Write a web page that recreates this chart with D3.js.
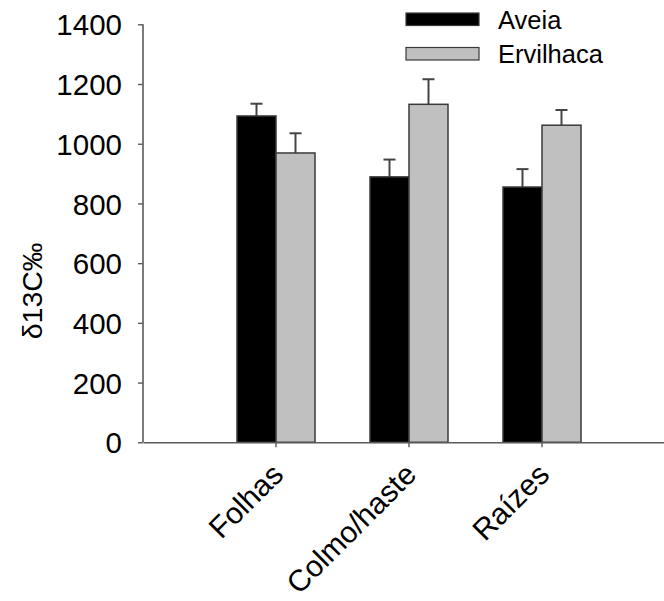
<!DOCTYPE html>
<html>
<head>
<meta charset="utf-8">
<script src="https://cdn.jsdelivr.net/npm/d3@7/dist/d3.min.js"></script>
<style>
  html, body { margin: 0; padding: 0; background: #fff; }
  svg { display: block; font-family: "Liberation Sans", Arial, sans-serif; }
</style>
</head>
<body>
<svg id="chart" width="664" height="601"></svg>
<script>
// Plant parts on the x axis
const categories = ["Folhas", "Colmo/haste", "Raízes"];
// Series names
const seriesNames = ["Aveia", "Ervilhaca"];
// Mean values per series (δ13C‰)
const aveiaValues = [1093, 889, 855];
const ervilhacaValues = [969, 1132, 1062];
// Upper error (standard error) per series
const aveiaErrors = [41, 58, 60];
const ervilhacaErrors = [66, 84, 51];
// Y-axis tick values
const yTicks = [0, 200, 400, 600, 800, 1000, 1200, 1400];

const seriesValues = [aveiaValues, ervilhacaValues];
const seriesErrors = [aveiaErrors, ervilhacaErrors];
const fills = ["#000000", "#c0c0c0"];
const axisColor = "#5a5a5a";

const svg = d3.select("#chart");

const x = d3.scaleBand()
  .domain(categories)
  .range([143, 675])
  .paddingInner(0)
  .paddingOuter(0.5);

const y = d3.scaleLinear()
  .domain([0, 1400])
  .range([442.3, 24.3]);

const barW = 39;
const xs = d3.scaleBand().domain(seriesNames).range([-barW, barW]).padding(0);

// Bars
const groups = svg.append("g").selectAll("g")
  .data(categories)
  .join("g")
  .attr("transform", d => `translate(${x(d) + x.bandwidth() / 2},0)`);

groups.each(function(cat, ci) {
  const g = d3.select(this);
  seriesNames.forEach((s, si) => {
    const v = seriesValues[si][ci];
    const e = seriesErrors[si][ci];
    const cx = xs(s) + xs.bandwidth() / 2;
    // error bar (upper only)
    g.append("line")
      .attr("x1", cx).attr("x2", cx)
      .attr("y1", y(v)).attr("y2", y(v + e))
      .attr("stroke", "#444").attr("stroke-width", 2);
    g.append("line")
      .attr("x1", cx - 6).attr("x2", cx + 6)
      .attr("y1", y(v + e)).attr("y2", y(v + e))
      .attr("stroke", "#444").attr("stroke-width", 2);
    g.append("rect")
      .attr("x", xs(s))
      .attr("y", y(v))
      .attr("width", xs.bandwidth())
      .attr("height", y(0) - y(v))
      .attr("fill", fills[si])
      .attr("stroke", "#3a3a3a")
      .attr("stroke-width", 1.5);
  });
});

// Y axis
const yAxis = d3.axisLeft(y).tickValues(yTicks).tickSize(5).tickPadding(16).tickFormat(d3.format("d"));
const gy = svg.append("g").attr("transform", "translate(143,0)").call(yAxis);
gy.select(".domain").attr("stroke", axisColor).attr("stroke-width", 1.6).attr("d", `M-0,${y(1400)}V${y(0)}`);
gy.selectAll(".tick line").attr("stroke", axisColor).attr("stroke-width", 1.4);
gy.selectAll(".tick text").attr("fill", "#000").style("font-size", "29.5px").attr("dy", "0.36em");

// X axis
const xAxis = d3.axisBottom(x).tickSize(5).tickSizeOuter(0).tickFormat("");
const gx = svg.append("g").attr("transform", `translate(0,${y(0)})`).call(xAxis);
gx.select(".domain").attr("stroke", axisColor).attr("stroke-width", 1.6);
gx.selectAll(".tick line").attr("stroke", axisColor).attr("stroke-width", 1.4);

// Rotated category labels
svg.append("g").selectAll("text")
  .data(categories)
  .join("text")
  .attr("text-anchor", "end")
  .style("font-size", "30px")
  .attr("fill", "#000")
  .attr("transform", d => `translate(${x(d) + x.bandwidth() / 2 + 9},${y(0) + 34}) rotate(-45)`)
  .text(d => d);

// Y axis title
svg.append("text")
  .attr("text-anchor", "middle")
  .style("font-size", "28.5px")
  .attr("fill", "#000")
  .attr("transform", `translate(42,291) rotate(-90)`)
  .text("δ13C‰");

// Legend
const legend = svg.append("g");
seriesNames.forEach((s, i) => {
  const ly = 13 + i * 34.5;
  legend.append("rect")
    .attr("x", 406).attr("y", ly)
    .attr("width", 73).attr("height", 12.5)
    .attr("fill", fills[i])
    .attr("stroke", "#3a3a3a").attr("stroke-width", 1.2);
  legend.append("text")
    .attr("x", 498).attr("y", ly + 6.5)
    .attr("dy", "0.36em")
    .style("font-size", "25.5px")
    .attr("fill", "#000")
    .text(s);
});
</script>
</body>
</html>
